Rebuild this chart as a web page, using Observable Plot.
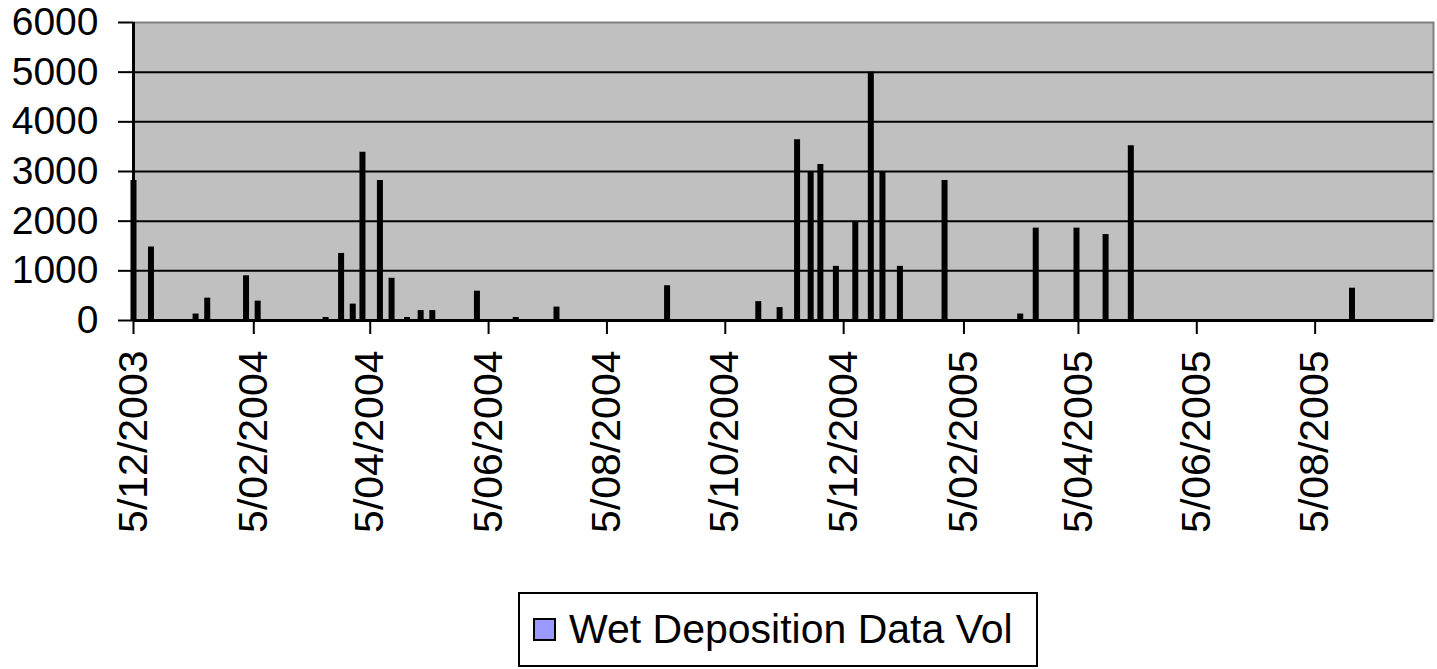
<!DOCTYPE html>
<html>
<head>
<meta charset="utf-8">
<script src="https://cdn.jsdelivr.net/npm/d3@7"></script>
<script src="https://cdn.jsdelivr.net/npm/@observablehq/plot@0.6"></script>
<style>
  html, body { margin: 0; padding: 0; background: #fff; }
  body { width: 1437px; height: 669px; overflow: hidden; font-family: "Liberation Sans", Arial, sans-serif; }
  #legend {
    position: relative;
    margin-left: 518px;
    width: 516px;
    height: 71px;
    border: 2px solid #000;
    display: flex;
    align-items: center;
    font-size: 41px;
    color: #000;
    box-sizing: content-box;
    white-space: nowrap;
  }
  #legend .sw {
    width: 19px; height: 19px; background: #9999ff; border: 2px solid #000;
    margin-left: 13px; margin-right: 13px; flex: none;
  }
</style>
</head>
<body>
<div id="chart"></div>
<div id="legend"><span class="sw"></span><span id="legendText"></span></div>
<script>
// ---- data ----
const seriesName = "Wet Deposition Data Vol";
const dates = [
  "2003-12-05","2003-12-14","2004-01-06","2004-01-12","2004-02-01","2004-02-07",
  "2004-03-13","2004-03-21","2004-03-27","2004-04-01","2004-04-10","2004-04-16",
  "2004-04-24","2004-05-01","2004-05-07","2004-05-30","2004-06-19","2004-07-10",
  "2004-09-05","2004-10-22","2004-11-02","2004-11-11","2004-11-18","2004-11-23",
  "2004-12-01","2004-12-11","2004-12-19","2004-12-25","2005-01-03","2005-01-26",
  "2005-03-06","2005-03-14","2005-04-04","2005-04-19","2005-05-02","2005-08-24"
];
const values = [
  2820,1480,130,450,900,390,
  60,1350,330,3390,2820,850,
  60,200,200,590,60,270,
  700,380,260,3640,2990,3140,
  1090,1980,5000,2980,1090,2820,
  130,1860,1860,1730,3520,650
];
const xTickDates = [
  "2003-12-05","2004-02-05","2004-04-05","2004-06-05","2004-08-05","2004-10-05",
  "2004-12-05","2005-02-05","2005-04-05","2005-06-05","2005-08-05"
];
const xTickLabels = [
  "5/12/2003","5/02/2004","5/04/2004","5/06/2004","5/08/2004","5/10/2004",
  "5/12/2004","5/02/2005","5/04/2005","5/06/2005","5/08/2005"
];
const yTicks = [0,1000,2000,3000,4000,5000,6000];
const xDomain = ["2003-12-05","2005-10-05"];

// ---- build ----
const parse = d3.utcParse("%Y-%m-%d");
const data = dates.map((d, i) => ({date: parse(d), value: values[i]}));
const tickDates = xTickDates.map(parse);
const labelOf = new Map(tickDates.map((d, i) => [+d, xTickLabels[i]]));
const dom = xDomain.map(parse);

const chart = Plot.plot({
  width: 1437,
  height: 592,
  marginLeft: 133,
  marginRight: 4,
  marginTop: 22,
  marginBottom: 272,
  style: {fontFamily: "Liberation Sans, Arial, sans-serif", background: "#fff", color: "#000"},
  x: {type: "utc", domain: dom},
  y: {domain: [0, 6000]},
  marks: [
    Plot.frame({fill: "#c0c0c0", stroke: "#808080", strokeWidth: 2}),
    Plot.ruleY(yTicks.filter(v => v > 0 && v < 6000), {y: d => d, stroke: "#000", strokeWidth: 2}),
    Plot.ruleX(data, {x: "date", y1: 0, y2: "value", stroke: "#000", strokeWidth: 6}),
    Plot.ruleX([dom[0]], {stroke: "#000", strokeWidth: 3}),
    Plot.ruleY([0], {stroke: "#000", strokeWidth: 3}),
    Plot.axisY({ticks: yTicks, tickSize: 15, tickPadding: 20, fontSize: 39, tickFormat: d => String(d), label: null, strokeWidth: 2}),
    Plot.axisX({ticks: tickDates, tickSize: 14, tickPadding: 16, fontSize: 41, tickRotate: -90,
      tickFormat: d => labelOf.get(+d), label: null, strokeWidth: 2})
  ]
});
document.getElementById("chart").appendChild(chart);
document.getElementById("legendText").textContent = seriesName;
</script>
</body>
</html>
